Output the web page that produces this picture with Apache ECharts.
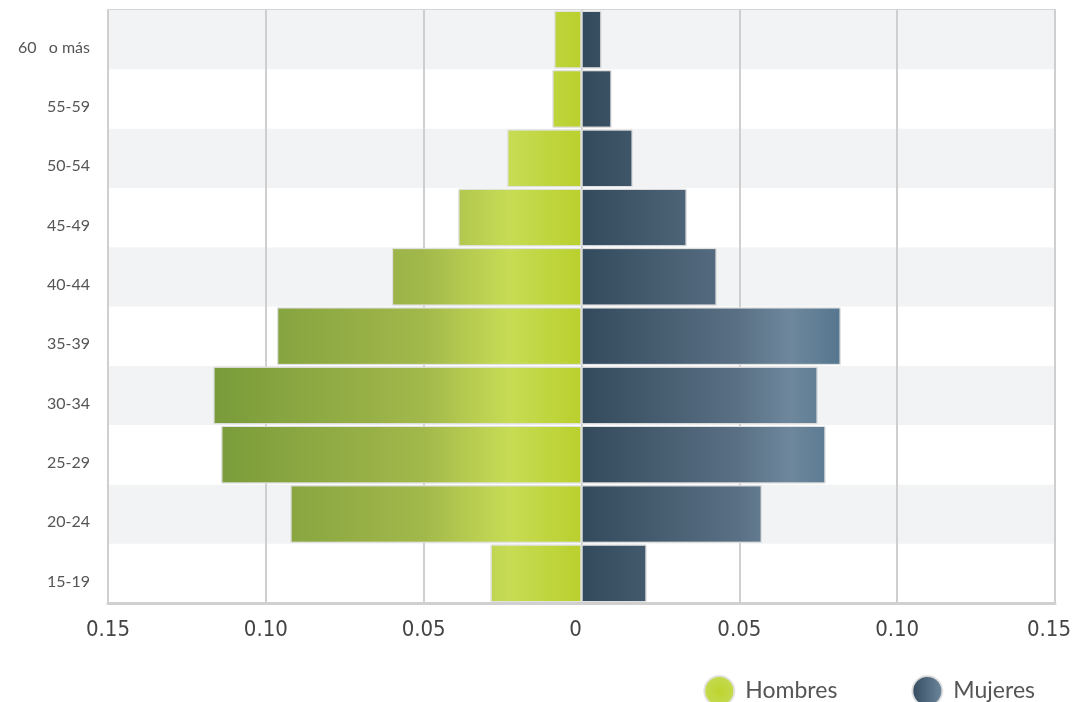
<!DOCTYPE html>
<html><head><meta charset="utf-8">
<script src="https://cdn.jsdelivr.net/npm/echarts@6/dist/echarts.min.js"></script>
<style>html,body{margin:0;padding:0;background:#fff}#c{width:1072px;height:702px}</style>
</head><body><div id="c"></div>
<script>
const categories = ['15-19','20-24','25-29','30-34','35-39','40-44','45-49','50-54','55-59','60   o más'];
const hombres = [0.0288,0.0922,0.1141,0.1166,0.0964,0.0600,0.0390,0.0235,0.0092,0.0086];
const mujeres = [0.0206,0.0571,0.0773,0.0748,0.0821,0.0428,0.0333,0.0162,0.0095,0.0063];
const xTicks = {min:-0.15, max:0.15, interval:0.05};

const chart = echarts.init(document.getElementById('c'), null, {renderer:'canvas'});
const hombresNeg = hombres.map(v => -v);
const labelFont = "'DejaVu Sans Condensed', Roboto, sans-serif";

const baseOption = {
  animation:false,
  grid:{left:108,right:17,top:10,bottom:99,outerBoundsMode:'none',containLabel:false,show:true,borderColor:'#d6d6d6',borderWidth:2},
  legend:{
    right:32,top:670,itemWidth:30,itemHeight:30,itemGap:74,icon:'circle',
    textStyle:{fontFamily:'Lato',fontSize:23,color:'#555',padding:[0,0,0,6]},
    data:[
      {name:'Hombres',itemStyle:{color:new echarts.graphic.RadialGradient(0.5,0.5,0.6,[{offset:0,color:'#bcd42e'},{offset:1,color:'#c9dc5a'}])}},
      {name:'Mujeres',itemStyle:{color:new echarts.graphic.LinearGradient(0,0,1,0,[{offset:0,color:'#344a5e'},{offset:1,color:'#6d889e'}])}}
    ]
  },
  xAxis:{
    type:'value',min:xTicks.min,max:xTicks.max,interval:xTicks.interval,
    axisLine:{show:true,lineStyle:{color:'#d0d0d0',width:3}},
    axisTick:{show:false},
    splitLine:{show:true,lineStyle:{color:'#cfcfcf',width:2}},
    axisLabel:{margin:16,fontSize:22,color:'#444',fontFamily:labelFont,
      formatter:v=>{
        if (Math.abs(v)<1e-9) return '{s|0}';
        if (v>xTicks.max-1e-9) return '{s|'+Math.abs(v).toFixed(2)+'}';
        return Math.abs(v).toFixed(2);
      },
      rich:{s:{fontSize:22,color:'#444',fontFamily:labelFont,padding:[0,12,0,0]}}
    }
  },
  yAxis:{
    type:'category',data:categories,
    axisLine:{show:false},axisTick:{show:false},
    axisLabel:{margin:18,fontSize:16,color:'#555',fontFamily:'Lato',verticalAlign:'top'},
    splitArea:{show:true,areaStyle:{color:['#ffffff','#f2f3f5']}}
  },
  series:[
    {name:'Hombres',type:'bar',data:hombresNeg,barGap:'-100%',barCategoryGap:'3%',
     itemStyle:{color:'#b5cc3a',borderColor:'rgba(225,225,225,0.9)',borderWidth:1}},
    {name:'Mujeres',type:'bar',data:mujeres,barCategoryGap:'3%',
     itemStyle:{color:'#4a6075',borderColor:'rgba(225,225,225,0.9)',borderWidth:1}}
  ]
};
chart.setOption(baseOption);

const px = v => chart.convertToPixel({xAxisIndex:0}, v);
const gradient = (pts) => {
  const x0 = px(pts[0][0]), x1 = px(pts[pts.length-1][0]);
  const stops = pts.map(p => ({offset:(px(p[0])-x0)/(x1-x0), color:p[1]}));
  return new echarts.graphic.LinearGradient(x0,0,x1,0,stops,true);
};
const gH = gradient([[-0.117,'#799b3a'],[-0.05,'#a2b84b'],[-0.023,'#c7dc54'],[0,'#b9d02d']]);
const gM = gradient([[0,'#33495c'],[0.05,'#5a7185'],[0.066,'#6e879c'],[0.082,'#55778f']]);
chart.setOption({series:[{itemStyle:{color:gH}},{itemStyle:{color:gM}}]});
</script></body></html>
